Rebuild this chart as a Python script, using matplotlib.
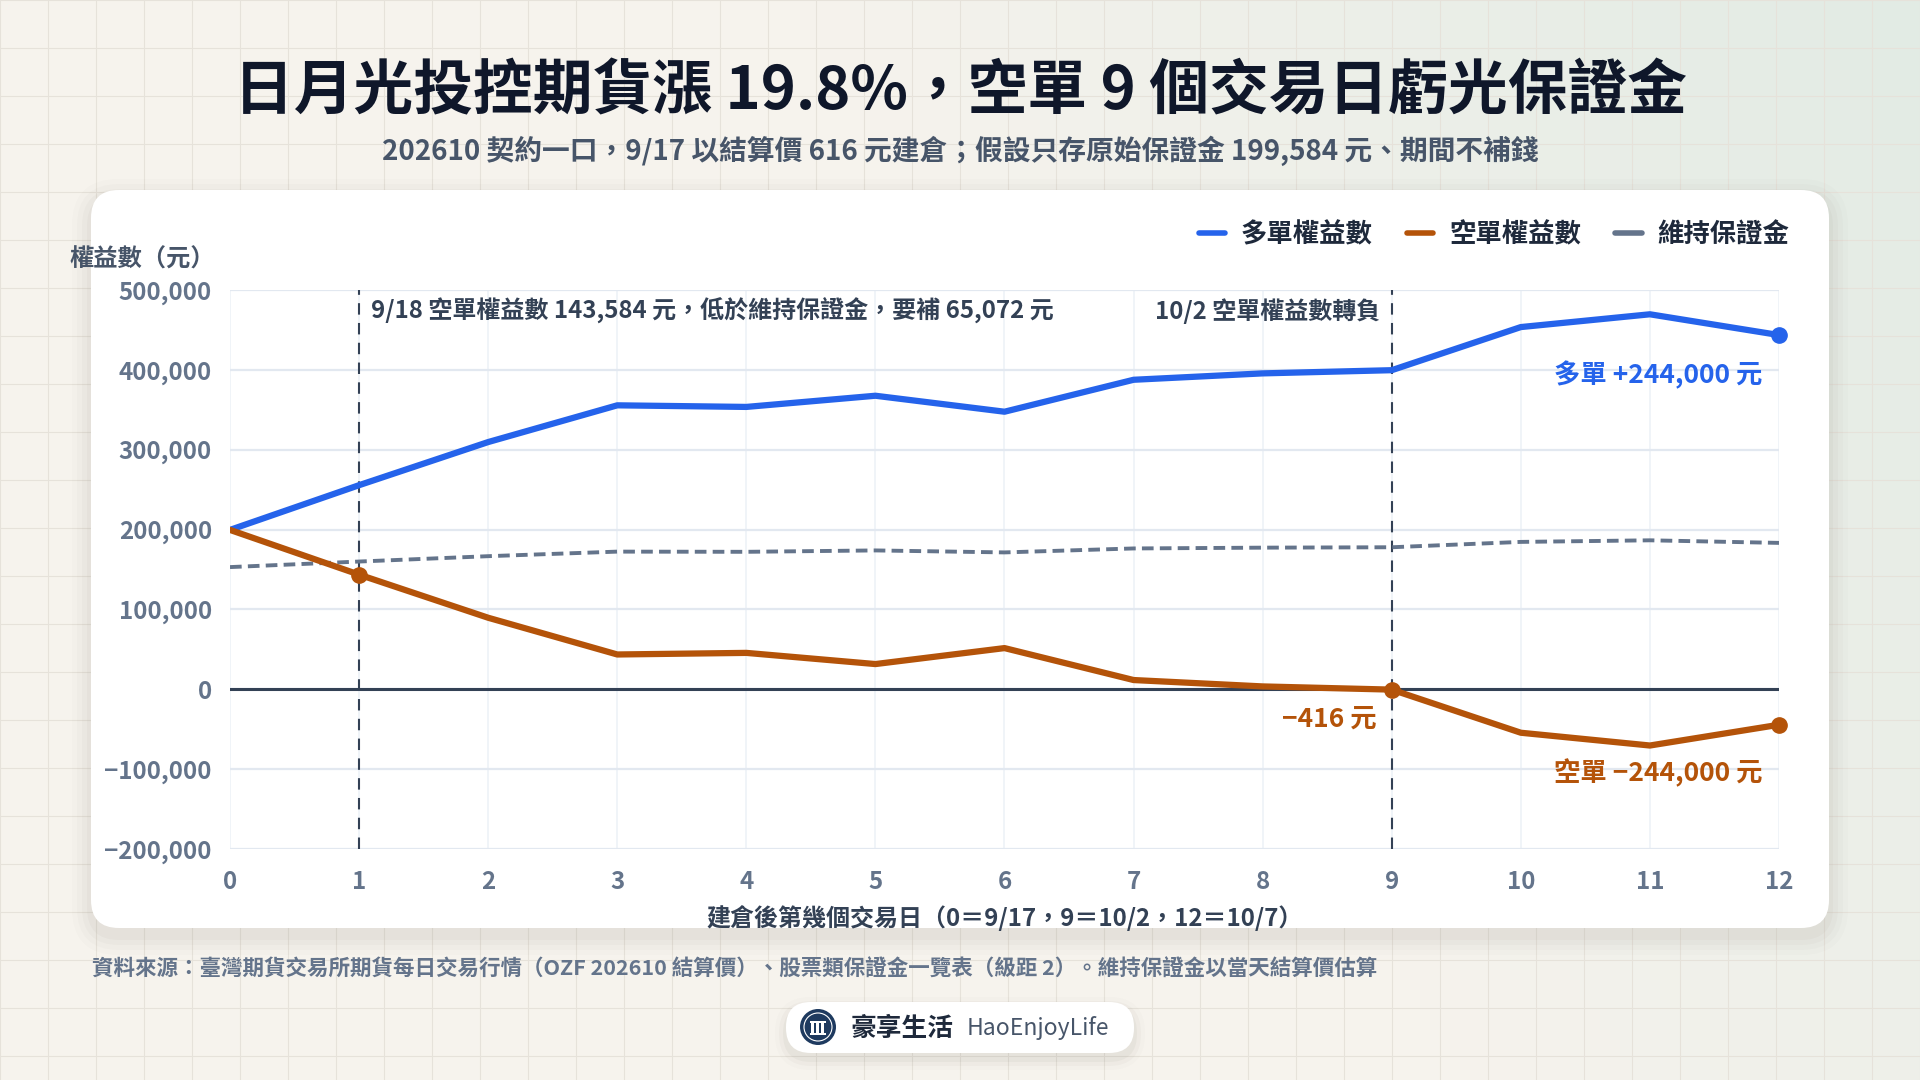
import numpy as np
import matplotlib.pyplot as plt
from matplotlib.patches import FancyBboxPatch, Circle, Rectangle
from matplotlib.lines import Line2D
from matplotlib.ticker import FuncFormatter

plt.rcParams['font.family'] = ['Noto Sans CJK TC', 'DejaVu Sans']

# --- 資料：建倉後第幾個交易日 / 權益數（元） ---
days = list(range(13))
long_equity = [199584, 255584, 309584, 355584, 353584, 367584, 347584,
               387584, 395584, 399584, 453584, 469584, 443584]
short_equity = [199584, 143584, 89584, 43584, 45584, 31584, 51584,
                11584, 3584, -416, -54416, -70416, -44416]
maint_margin = [153014, 159970, 166676, 172390, 172142, 173880, 171396,
                176364, 177358, 177854, 184561, 186548, 183319]
yticks = [-200000, -100000, 0, 100000, 200000, 300000, 400000, 500000]
event_days = [1, 9]
short_marks = [1, 9, 12]

title = "日月光投控期貨漲 19.8%，空單 9 個交易日虧光保證金"
subtitle = "202610 契約一口，9/17 以結算價 616 元建倉；假設只存原始保證金 199,584 元、期間不補錢"
source = ("資料來源：臺灣期貨交易所期貨每日交易行情（OZF 202610 結算價）、股票類保證金一覽表（級距 2）。"
          "維持保證金以當天結算價估算")

BLUE = '#2563eb'
ORANGE = '#b45309'
GRAY = '#64748b'
INK = '#334155'
DARK = '#1e293b'

fig = plt.figure(figsize=(19.2, 10.8), dpi=100)

# --- 背景（像素座標） ---
bg = fig.add_axes([0, 0, 1, 1], zorder=0)
xx, yy = np.meshgrid(np.linspace(0, 1, 192), np.linspace(0, 1, 108))
w = np.clip(1.7 * xx - 0.7 - 0.6 * yy, 0, 1)
base = np.array([246, 243, 237]) / 255
tint = np.array([226, 235, 228]) / 255
img = base * (1 - w[..., None]) + tint * w[..., None]
bg.imshow(img, extent=[0, 1920, 1080, 0], aspect='auto', zorder=0)
for gx in range(0, 1921, 48):
    bg.plot([gx, gx], [0, 1080], color='#e6e2da', lw=0.8, zorder=1)
for gy in range(0, 1081, 48):
    bg.plot([0, 1920], [gy, gy], color='#e6e2da', lw=0.8, zorder=1)
bg.set_xlim(0, 1920)
bg.set_ylim(1080, 0)
bg.axis('off')

# 卡片 + 陰影
for i, a in enumerate([0.035, 0.03, 0.025, 0.02]):
    s = 4 + i * 5
    bg.add_patch(FancyBboxPatch((91 - s, 190 - s + 8), 1738 + 2 * s, 738 + 2 * s,
                                boxstyle=f'round,pad=0,rounding_size={28 + s}',
                                fc='#6b6256', ec='none', alpha=a, zorder=2))
bg.add_patch(FancyBboxPatch((91, 190), 1738, 738, boxstyle='round,pad=0,rounding_size=28',
                            fc='white', ec='none', zorder=3))

# 標題
bg.text(961, 92, title, ha='center', va='center', fontsize=43, fontweight='heavy', color='#0f172a', zorder=4)
bg.text(960, 151, subtitle, ha='center', va='center', fontsize=20, fontweight='bold', color='#475569', zorder=4)
bg.text(69, 260, "權益數（元）", ha='left', va='center', fontsize=17.5, fontweight='bold', color='#475569', zorder=4)
bg.text(92, 969, source, ha='left', va='center', fontsize=15.5, fontweight='bold', color=GRAY, zorder=4)

# 頁尾標誌
for i, a in enumerate([0.05, 0.035, 0.02]):
    s = 3 + i * 4
    bg.add_patch(FancyBboxPatch((786 - s, 1002 - s + 6), 348 + 2 * s, 51 + 2 * s,
                                boxstyle=f'round,pad=0,rounding_size={25 + s}',
                                fc='#6b6256', ec='none', alpha=a, zorder=2))
bg.add_patch(FancyBboxPatch((786, 1002), 348, 51, boxstyle='round,pad=0,rounding_size=25',
                            fc='white', ec='none', zorder=3))
bg.add_patch(Circle((818, 1027), 18, fc='#1e3a5f', ec='none', zorder=4))
bg.add_patch(Circle((818, 1027), 14, fc='none', ec='white', lw=0.8, zorder=5))
bg.add_patch(Rectangle((810, 1021), 16, 2, fc='white', ec='none', zorder=5))
bg.add_patch(Rectangle((810, 1033), 16, 2, fc='white', ec='none', zorder=5))
for cx in [811, 816, 821]:
    bg.add_patch(Rectangle((cx, 1023), 2.5, 10, fc='white', ec='none', zorder=5))
bg.text(851, 1028, "豪享生活", ha='left', va='center', fontsize=18.5, fontweight='bold', color=DARK, zorder=5)
bg.text(967, 1028, "HaoEnjoyLife", ha='left', va='center', fontsize=16.5, color='#475569', zorder=5)

# --- 主圖 ---
ax = fig.add_axes([230 / 1920, 1 - 849 / 1080, 1549 / 1920, 559 / 1080], zorder=2)
ax.patch.set_alpha(0)

ax.plot(days, maint_margin, color=GRAY, lw=2.8, dashes=(3, 1.6), zorder=3)
ax.plot(days, long_equity, color=BLUE, lw=4.5, solid_joinstyle='round', solid_capstyle='round', zorder=4)
ax.plot(days, short_equity, color=ORANGE, lw=4.5, solid_joinstyle='round', solid_capstyle='round', zorder=4)
ax.plot(days[-1], long_equity[-1], 'o', color=BLUE, ms=11, clip_on=False, zorder=5)
ax.plot([days[i] for i in short_marks], [short_equity[i] for i in short_marks], 'o',
        color=ORANGE, ms=11, clip_on=False, zorder=5)

ax.axhline(0, color=INK, lw=2.2, zorder=2)
for d in event_days:
    ax.axvline(d, color=INK, lw=1.5, dashes=(5.5, 4), zorder=2)

ax.text(1.09, 474000, "9/18 空單權益數 143,584 元，低於維持保證金，要補 65,072 元",
        ha='left', va='center', fontsize=17.3, fontweight='bold', color=INK)
ax.text(8.91, 474000, "10/2 空單權益數轉負", ha='right', va='center',
        fontsize=17.3, fontweight='bold', color=INK)
ax.text(11.875, 394000, "多單 +244,000 元", ha='right', va='center',
        fontsize=19, fontweight='bold', color=BLUE)
ax.text(8.88, -37500, "−416 元", ha='right', va='center',
        fontsize=19, fontweight='bold', color=ORANGE)
ax.text(11.875, -105000, "空單 −244,000 元", ha='right', va='center',
        fontsize=19, fontweight='bold', color=ORANGE)

ax.set_xlim(0, 12)
ax.set_ylim(-200000, 500000)
ax.set_xticks(days)
ax.set_yticks(yticks)
ax.yaxis.set_major_formatter(FuncFormatter(
    lambda v, p: ('−' if v < 0 else '') + f'{abs(int(v)):,}'))
ax.tick_params(length=0, labelsize=17.4, labelcolor=GRAY)
ax.tick_params(axis='y', pad=13)
ax.tick_params(axis='x', pad=15)
for lab in ax.get_xticklabels() + ax.get_yticklabels():
    lab.set_fontweight('bold')
ax.grid(axis='y', color='#e2e8f0', lw=1.6)
ax.grid(axis='x', color='#eef2f7', lw=1.2)
ax.set_axisbelow(True)
for sp in ax.spines.values():
    sp.set_visible(False)
ax.set_xlabel("建倉後第幾個交易日（0＝9/17，9＝10/2，12＝10/7）", fontsize=17.3,
              fontweight='bold', color=INK, labelpad=8)

handles = [Line2D([], [], color=BLUE, lw=4, solid_capstyle='round'),
           Line2D([], [], color=ORANGE, lw=4, solid_capstyle='round'),
           Line2D([], [], color=GRAY, lw=4, solid_capstyle='round')]
fig.legend(handles, ["多單權益數", "空單權益數", "維持保證金"], loc='center right',
           bbox_to_anchor=(1800 / 1920, 1 - 235 / 1080), ncol=3, frameon=False,
           prop={'size': 19, 'weight': 'bold'}, labelcolor=DARK,
           handlelength=1.0, handletextpad=0.6, columnspacing=1.3, borderaxespad=0)

fig.savefig('out.png', dpi=100)
